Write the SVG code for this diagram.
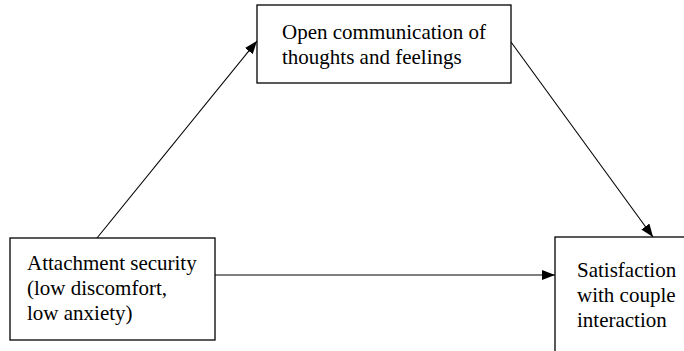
<svg xmlns="http://www.w3.org/2000/svg" width="684" height="351" viewBox="0 0 684 351">
<style>
.box{fill:#fff;stroke:#000;stroke-width:1.3}
.lbl{font-family:"Liberation Serif","Times New Roman",serif;font-size:21px;fill:#000}
.conn{stroke:#000;stroke-width:1.1;fill:none;marker-end:url(#ah)}
</style>
<defs>
<marker id="ah" markerWidth="13" markerHeight="10" refX="13" refY="5" orient="auto" markerUnits="userSpaceOnUse">
<path d="M0,0 L13,5 L0,10 Z" fill="#000"/>
</marker>
</defs>
<rect width="684" height="351" fill="#fff"/>
<g id="connectors">
<line class="conn" x1="97" y1="238" x2="257" y2="41"/>
<line class="conn" x1="511" y1="42" x2="653" y2="237"/>
<line class="conn" x1="215" y1="275" x2="555" y2="275"/>
</g>
<g id="node-communication">
<rect class="box" x="257" y="5" width="254" height="78"/>
<text class="lbl" x="282" y="39">Open communication of</text>
<text class="lbl" x="282" y="64">thoughts and feelings</text>
</g>
<g id="node-attachment">
<rect class="box" x="10" y="238" width="205" height="102"/>
<text class="lbl" x="27" y="270">Attachment security</text>
<text class="lbl" x="27" y="295">(low discomfort,</text>
<text class="lbl" x="27" y="320">low anxiety)</text>
</g>
<g id="node-satisfaction">
<rect class="box" x="555" y="237" width="140" height="130"/>
<text class="lbl" x="577" y="277">Satisfaction</text>
<text class="lbl" x="577" y="302">with couple</text>
<text class="lbl" x="577" y="327">interaction</text>
</g>
</svg>
